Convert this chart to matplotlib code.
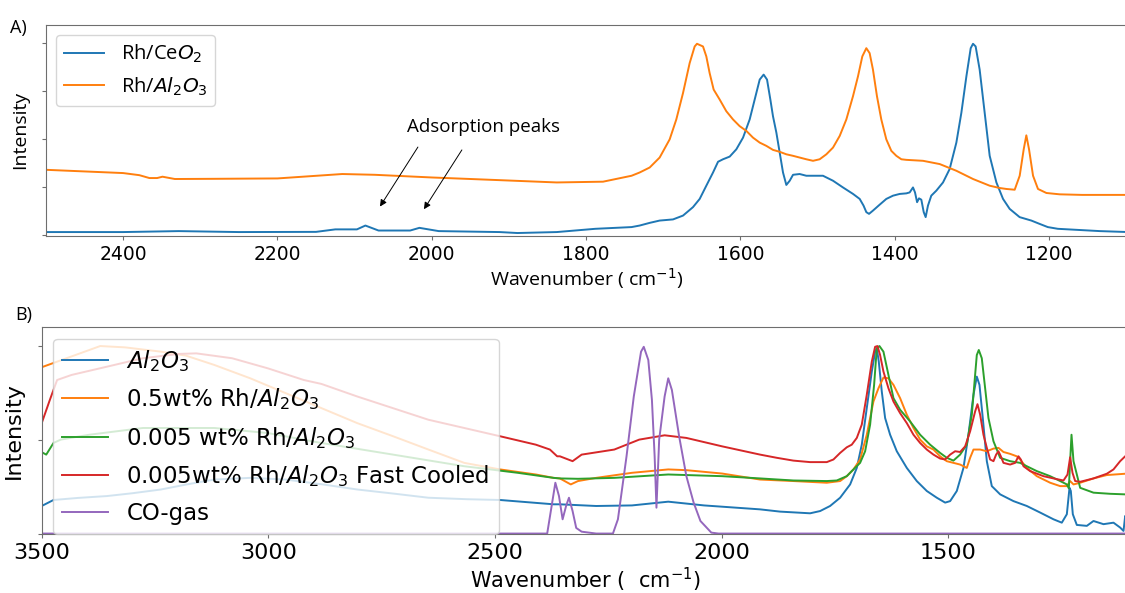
import matplotlib
matplotlib.use("Agg")
import matplotlib.pyplot as plt

# ---- panel A : Rh/CeO2 vs Rh/Al2O3 ----
wn_a_ceo2 = [2500, 2400, 2328, 2250, 2150, 2125, 2097, 2086, 2069, 2028, 2016, 1991, 1912, 1889, 1838,
             1788, 1741,
             1730.5, 1717.5, 1704.6, 1687.3, 1674.3, 1661.4, 1652.7, 1644.1, 1635.4, 1628.9, 1622.5, 1613.8,
             1605.2, 1596.5, 1587.9, 1581.4, 1574.9, 1569.8, 1565.4, 1561.1, 1557.7, 1553.3, 1549.0, 1544.7,
             1540.4, 1536.0, 1531.7, 1523.1, 1514.5, 1505.8, 1492.9, 1479.9, 1467.0, 1453.9, 1445.3, 1440.3,
             1436.7, 1433.2, 1428.1, 1419.4, 1410.8, 1402.1, 1393.5, 1384.8, 1380.5, 1376.2, 1373.6, 1370.9,
             1368.4, 1365.4, 1362.3, 1359.8, 1356.8, 1352.5, 1346.0, 1337.3, 1328.7, 1320.0, 1313.5, 1307.0,
             1301.4, 1298.4, 1295.0, 1289.8, 1283.3, 1276.8, 1268.1, 1259.5, 1250.9, 1238.0, 1222.8, 1212.3,
             1201.5, 1188.5, 1134, 1097]
int_a_ceo2 = [0.014, 0.014, 0.019, 0.014, 0.015, 0.028, 0.028, 0.048, 0.022, 0.022, 0.036, 0.019, 0.014, 0.009, 0.014,
              0.031, 0.040,
              0.048, 0.062, 0.074, 0.080, 0.100, 0.144, 0.187, 0.256, 0.325, 0.381, 0.394, 0.408,
              0.446, 0.507, 0.602, 0.706, 0.810, 0.836, 0.810, 0.706, 0.619, 0.533, 0.429, 0.325,
              0.260, 0.282, 0.313, 0.317, 0.308, 0.308, 0.308, 0.282, 0.247, 0.213, 0.187, 0.152,
              0.118, 0.109, 0.126, 0.157, 0.187, 0.204, 0.213, 0.216, 0.221, 0.247, 0.221, 0.170,
              0.190, 0.183, 0.118, 0.092, 0.152, 0.204, 0.230, 0.273, 0.343, 0.481, 0.637, 0.827,
              0.974, 0.997, 0.983, 0.862, 0.637, 0.412, 0.273, 0.187, 0.135, 0.092, 0.074, 0.057,
              0.040, 0.031, 0.019, 0.014]

wn_a_al2o3 = [2500, 2400, 2379, 2366, 2356, 2349, 2333, 2282, 2200, 2116, 2074, 2000, 1912, 1838,
              1778, 1741,
              1730.5, 1717.5, 1704.6, 1691.6, 1683.0, 1674.3, 1665.7, 1659.2, 1656.2, 1648.4, 1644.1, 1639.8,
              1634.6, 1626.8, 1618.2, 1609.5, 1600.9, 1592.2, 1583.6, 1574.9, 1566.3, 1557.7, 1549.0, 1540.4,
              1531.7, 1523.1, 1514.5, 1505.8, 1497.2, 1488.5, 1479.9, 1471.2, 1462.6, 1454.0, 1447.5, 1441.9,
              1436.7, 1432.4, 1428.1, 1422.9, 1417.3, 1410.8, 1404.3, 1397.8, 1391.3, 1384.8, 1363.2, 1341.6,
              1320.0, 1298.4, 1276.8, 1263.8, 1255.2, 1244.4, 1237.9, 1232.7, 1229.3, 1225.8, 1220.6, 1214.2,
              1203.3, 1186.1, 1157, 1097]
int_a_al2o3 = [0.339, 0.322, 0.311, 0.296, 0.296, 0.303, 0.291, 0.292, 0.294, 0.317, 0.313, 0.299, 0.285, 0.273,
               0.277, 0.308,
               0.325, 0.351, 0.403, 0.498, 0.602, 0.740, 0.896, 0.983, 0.997, 0.983, 0.931, 0.844,
               0.758, 0.706, 0.645, 0.602, 0.567, 0.542, 0.507, 0.481, 0.464, 0.443, 0.433, 0.420,
               0.412, 0.403, 0.394, 0.386, 0.394, 0.420, 0.455, 0.516, 0.602, 0.723, 0.827, 0.931,
               0.974, 0.948, 0.862, 0.723, 0.602, 0.498, 0.438, 0.412, 0.394, 0.391, 0.386, 0.369,
               0.334, 0.291, 0.256, 0.244, 0.239, 0.235, 0.308, 0.446, 0.519, 0.446, 0.308, 0.239,
               0.218, 0.211, 0.208, 0.208]

# ---- panel B : supports, loadings and CO gas ----
wn_b_al2o3 = [3500, 3474, 3420, 3356, 3300, 3237, 3180, 3119, 3040, 2962, 2880, 2804, 2720, 2647, 2560, 2489, 2371,
              2357, 2277, 2198, 2118, 2039,
              1915.4, 1871.3, 1805.1, 1783.0, 1761.0, 1738.9, 1716.8, 1702.1, 1691.1, 1680.1, 1669.0, 1661.7,
              1658.0, 1653.6, 1647.0, 1639.6, 1628.6, 1613.9, 1591.8, 1569.8, 1547.7, 1525.6, 1507.2, 1496.2,
              1481.5, 1466.8, 1455.8, 1444.7, 1437.4, 1431.5, 1424.2, 1415.3, 1404.3, 1385.9, 1356.5, 1327.1,
              1297.7, 1268.2, 1249.9, 1238.8, 1232.9, 1230.0, 1225.6, 1216.8, 1194.7, 1180.0, 1157.9, 1135.9,
              1121.2, 1113.8, 1110.1, 1103]
int_b_al2o3 = [0.147, 0.179, 0.190, 0.200, 0.215, 0.235, 0.262, 0.288, 0.297, 0.288, 0.262, 0.235, 0.212, 0.191, 0.183, 0.179, 0.156,
               0.156, 0.147, 0.150, 0.170, 0.150,
               0.129, 0.117, 0.108, 0.120, 0.147, 0.191, 0.262, 0.350, 0.474, 0.669, 0.864, 0.970,
               0.988, 0.917, 0.758, 0.616, 0.527, 0.439, 0.350, 0.280, 0.227, 0.191, 0.165, 0.173,
               0.227, 0.350, 0.527, 0.740, 0.837, 0.793, 0.616, 0.386, 0.253, 0.209, 0.173, 0.147,
               0.112, 0.076, 0.058, 0.103, 0.244, 0.227, 0.103, 0.046, 0.041, 0.067, 0.050, 0.058,
               0.032, 0.014, 0.094, 0.080]

wn_b_05 = [3500, 3371, 3316, 3237, 3182, 3119, 3040, 2962, 2883, 2804, 2725, 2647, 2568, 2489, 2410, 2371,
           2357, 2333, 2317, 2277, 2198, 2118, 2078, 1999,
           1915.4, 1841.9, 1768.3, 1738.9, 1724.2, 1709.5, 1694.8, 1680.1, 1665.4, 1654.3, 1643.3, 1632.3,
           1621.2, 1606.5, 1591.8, 1577.1, 1562.4, 1555.0, 1547.7, 1533.0, 1518.3, 1503.6, 1488.9, 1474.2,
           1466.8, 1459.5, 1452.1, 1444.7, 1430.0, 1415.3, 1400.6, 1389.6, 1378.6, 1363.9, 1349.2, 1341.8,
           1327.1, 1305.0, 1275.6, 1253.5, 1238.8, 1231.5, 1224.1, 1209.4, 1180.0, 1150.6, 1110.1, 1103]
int_b_05 = [0.887, 1.000, 0.993, 0.970, 0.949, 0.899, 0.828, 0.749, 0.669, 0.589, 0.519, 0.448, 0.377, 0.342, 0.315, 0.297,
            0.294, 0.262, 0.280, 0.297, 0.324, 0.342, 0.338, 0.320,
            0.288, 0.280, 0.271, 0.280, 0.306, 0.342, 0.395, 0.527, 0.704, 0.775, 0.832, 0.828,
            0.793, 0.722, 0.634, 0.563, 0.501, 0.483, 0.465, 0.448, 0.412, 0.386, 0.377, 0.368,
            0.359, 0.350, 0.404, 0.448, 0.448, 0.439, 0.453, 0.457, 0.435, 0.425, 0.412, 0.395,
            0.350, 0.306, 0.271, 0.253, 0.253, 0.280, 0.262, 0.271, 0.294, 0.312, 0.319, 0.320]

wn_b_0005 = [3500, 3490, 3474, 3458, 3395, 3277, 3119, 3001, 2883, 2725, 2568, 2450, 2371,
             2357, 2317, 2237, 2118, 1999,
             1915.4, 1841.9, 1768.3, 1746.3, 1724.2, 1709.5, 1694.8, 1683.7, 1672.7, 1663.9, 1658.0, 1652.1,
             1643.3, 1632.3, 1621.2, 1606.5, 1584.5, 1562.4, 1540.4, 1518.3, 1503.6, 1488.9, 1474.2, 1459.5,
             1448.4, 1441.1, 1437.4, 1433.0, 1426.4, 1419.0, 1411.7, 1400.6, 1385.9, 1363.9, 1341.8, 1327.1,
             1305.0, 1275.6, 1253.5, 1238.8, 1234.4, 1231.5, 1228.5, 1224.1, 1209.4, 1180.0, 1143.2, 1110.1, 1103]
int_b_0005 = [0.434, 0.421, 0.483, 0.501, 0.527, 0.563, 0.563, 0.536, 0.483, 0.421, 0.359, 0.324, 0.297,
              0.294, 0.292, 0.297, 0.315, 0.306,
              0.294, 0.283, 0.280, 0.283, 0.306, 0.342, 0.377, 0.439, 0.581, 0.793, 0.988, 1.000,
              0.970, 0.846, 0.722, 0.660, 0.598, 0.527, 0.474, 0.430, 0.404, 0.389, 0.421, 0.474,
              0.634, 0.846, 0.952, 0.979, 0.935, 0.775, 0.616, 0.492, 0.404, 0.386, 0.377, 0.359,
              0.333, 0.306, 0.280, 0.262, 0.241, 0.386, 0.527, 0.386, 0.244, 0.218, 0.212, 0.209, 0.209]

wn_b_fast = [3500, 3482, 3466, 3434, 3356, 3277, 3198, 3159, 3080, 3001, 2922, 2883, 2804, 2647, 2489, 2410, 2379, 2363,
             2357, 2329, 2309, 2237, 2182, 2126, 2078, 1999,
             1915.4, 1878.6, 1841.9, 1805.1, 1768.3, 1753.6, 1738.9, 1724.2, 1713.2, 1702.1, 1691.1, 1680.1,
             1669.0, 1661.7, 1656.5, 1650.7, 1643.3, 1632.3, 1621.2, 1606.5, 1591.8, 1577.1, 1562.4, 1547.7,
             1533.0, 1518.3, 1507.2, 1496.2, 1485.2, 1474.2, 1463.1, 1452.1, 1441.1, 1435.9, 1430.0, 1422.7,
             1415.3, 1408.0, 1400.6, 1394.8, 1389.6, 1384.4, 1378.6, 1363.9, 1352.8, 1345.5, 1340.3, 1334.4,
             1319.7, 1290.3, 1268.2, 1246.2, 1237.3, 1231.5, 1226.3, 1220.4, 1209.4, 1180.0, 1150.6, 1135.9,
             1121.2, 1110.1, 1103]
int_b_fast = [0.589, 0.713, 0.819, 0.846, 0.890, 0.935, 0.958, 0.961, 0.935, 0.881, 0.819, 0.798, 0.731, 0.607, 0.519, 0.474, 0.448, 0.412,
              0.412, 0.386, 0.421, 0.448, 0.501, 0.524, 0.510, 0.465,
              0.421, 0.404, 0.389, 0.381, 0.381, 0.395, 0.430, 0.460, 0.474, 0.510, 0.581, 0.740,
              0.917, 0.996, 1.000, 0.952, 0.864, 0.775, 0.704, 0.642, 0.589, 0.527, 0.483, 0.448,
              0.421, 0.400, 0.395, 0.421, 0.439, 0.435, 0.465, 0.545, 0.651, 0.690, 0.634, 0.527,
              0.457, 0.395, 0.386, 0.421, 0.439, 0.412, 0.377, 0.368, 0.377, 0.412, 0.395, 0.359,
              0.333, 0.306, 0.294, 0.283, 0.315, 0.407, 0.324, 0.280, 0.276, 0.294, 0.319, 0.342,
              0.386, 0.412, 0.425]

wn_b_co = [3500, 2385, 2375, 2367, 2359, 2351, 2343, 2337, 2329, 2321, 2309, 2277, 2240, 2229, 2210, 2194, 2178,
           2172, 2162, 2154, 2148, 2144, 2138, 2126, 2118, 2110, 2094, 2078, 2062, 2047, 2023, 2007, 1103]
int_b_co = [0.0, 0.0, 0.150, 0.271, 0.200, 0.076, 0.150, 0.191, 0.120, 0.030, 0.010, 0.0, 0.0, 0.076, 0.412, 0.731, 0.970,
            0.996, 0.926, 0.713, 0.412, 0.138, 0.501, 0.731, 0.828, 0.766, 0.519, 0.306, 0.165, 0.067, 0.005, 0.0, 0.0]

labels_a = ["Rh/Ce$O_2$", "Rh/$Al_2O_3$"]
labels_b = ["$Al_2O_3$", "0.5wt% Rh/$Al_2O_3$", "0.005 wt% Rh/$Al_2O_3$",
            "0.005wt% Rh/$Al_2O_3$ Fast Cooled", "CO-gas"]

W, H = 1125, 593
fig = plt.figure(figsize=(W / 100, H / 100), dpi=100)
spine_col = "#6e6e6e"

# panel A
ax1 = fig.add_axes([46 / W, 1 - 235.7 / H, (1128.4 - 46) / W, (235.7 - 25) / H])
ax1.plot(wn_a_ceo2, int_a_ceo2, color="tab:blue", lw=1.4, label=labels_a[0])
ax1.plot(wn_a_al2o3, int_a_al2o3, color="tab:orange", lw=1.4, label=labels_a[1])
ax1.set_xlim(2500, 1097)
ax1.set_ylim(-0.005, 1.095)
ax1.set_yticks([0, 0.25, 0.5, 0.75, 1.0])
ax1.set_yticklabels([])
ax1.set_xticks([2400, 2200, 2000, 1800, 1600, 1400, 1200])
ax1.tick_params(labelsize=13.5, color=spine_col, length=3)
ax1.set_ylabel("Intensity", fontsize=14, family="Open Sans", labelpad=6)
ax1.set_xlabel("Wavenumber ( cm$^{-1}$)", fontsize=14, family="Open Sans", labelpad=2)
ax1.legend(loc="upper left", prop={"family": "Open Sans", "size": 14.5})
ax1.text(2032, 0.56, "Adsorption peaks", fontsize=13.5, family="Open Sans", va="center", ha="left")
ax1.annotate("", xy=(2069, 0.135), xytext=(2016, 0.47),
             arrowprops=dict(arrowstyle="-|>", color="black", lw=0.7, mutation_scale=10))
ax1.annotate("", xy=(2012, 0.121), xytext=(1959, 0.455),
             arrowprops=dict(arrowstyle="-|>", color="black", lw=0.7, mutation_scale=10))

# panel B
ax2 = fig.add_axes([41.7 / W, 1 - 534.3 / H, (1128.4 - 41.7) / W, (534.3 - 327.3) / H])
ax2.plot(wn_b_al2o3, int_b_al2o3, color="tab:blue", lw=1.4, label=labels_b[0])
ax2.plot(wn_b_05, int_b_05, color="tab:orange", lw=1.4, label=labels_b[1])
ax2.plot(wn_b_0005, int_b_0005, color="tab:green", lw=1.4, label=labels_b[2])
ax2.plot(wn_b_fast, int_b_fast, color="tab:red", lw=1.4, label=labels_b[3])
ax2.plot(wn_b_co, int_b_co, color="tab:purple", lw=1.4, label=labels_b[4])
ax2.set_xlim(3500, 1103)
ax2.set_ylim(-0.004, 1.1)
ax2.set_yticks([0, 0.5, 1.0])
ax2.set_yticklabels([])
ax2.set_xticks([3500, 3000, 2500, 2000, 1500])
ax2.tick_params(labelsize=16, color=spine_col, length=3)
ax2.set_ylabel("Intensity", fontsize=16, labelpad=6)
ax2.set_xlabel("Wavenumber (  cm$^{-1}$)", fontsize=15, labelpad=2)
ax2.legend(loc="upper left", fontsize=16.5, labelspacing=0.55)

for ax in (ax1, ax2):
    for s in ax.spines.values():
        s.set_color(spine_col)

fig.text(10 / W, 1 - 28 / H, "A)", fontsize=13, family="Open Sans", va="center")
fig.text(15 / W, 1 - 315 / H, "B)", fontsize=13, family="Open Sans", va="center")

fig.savefig("out.png", dpi=100)
